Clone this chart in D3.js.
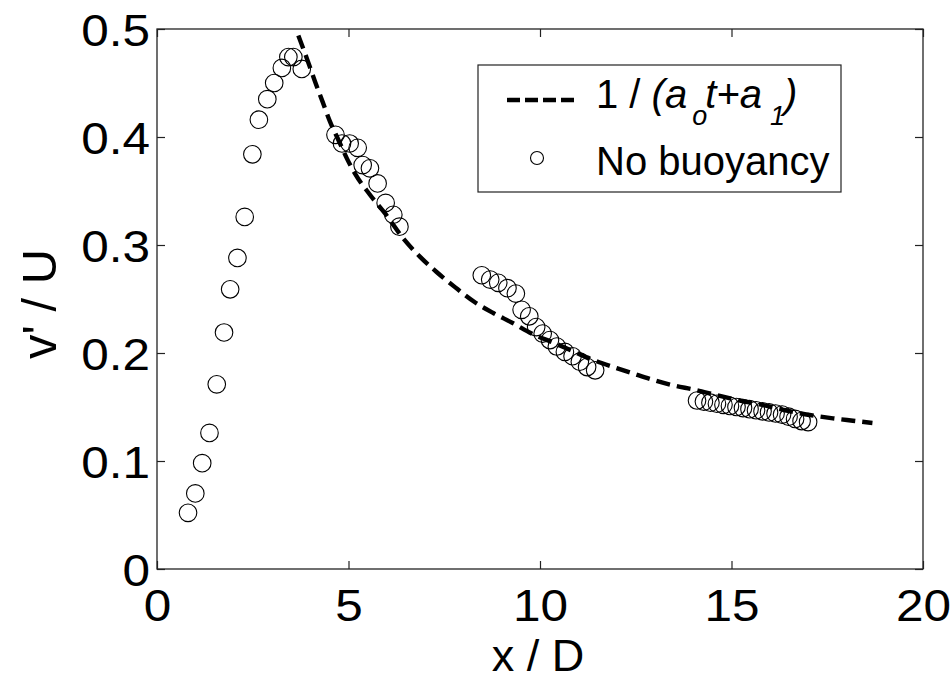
<!DOCTYPE html>
<html>
<head>
<meta charset="utf-8">
<script src="https://cdn.jsdelivr.net/npm/d3@7"></script>
<style>
  html, body { margin: 0; padding: 0; background: #fff; }
  svg { display: block; font-family: "Liberation Sans", Arial, sans-serif; }
</style>
</head>
<body>
<svg id="chart" width="950" height="681"></svg>
<script>
// ---- data ----
const xTicks = [0, 5, 10, 15, 20];
const xTickLabels = ["0", "5", "10", "15", "20"];
const yTicks = [0, 0.1, 0.2, 0.3, 0.4, 0.5];
const yTickLabels = ["0", "0.1", "0.2", "0.3", "0.4", "0.5"];

// "No buoyancy" measurements
const obsX = [0.81, 1.00, 1.18, 1.37, 1.56, 1.75, 1.91, 2.10, 2.29, 2.49, 2.66, 2.88, 3.06, 3.26, 3.43, 3.56, 3.78,
  4.66, 4.83, 5.03, 5.24, 5.37, 5.56, 5.76, 5.97, 6.17, 6.33,
  8.48, 8.70, 8.91, 9.15, 9.37, 9.52, 9.72, 9.90, 10.07, 10.26, 10.44, 10.65, 10.85, 11.04, 11.23, 11.44,
  14.10, 14.28, 14.45, 14.62, 14.79, 14.96, 15.13, 15.30, 15.47, 15.64, 15.81, 15.98, 16.15, 16.32, 16.49, 16.66, 16.83, 17.00];
const obsY = [0.052, 0.070, 0.098, 0.126, 0.171, 0.219, 0.259, 0.288, 0.326, 0.384, 0.416, 0.435, 0.450, 0.464, 0.474, 0.474, 0.463,
  0.402, 0.394, 0.394, 0.390, 0.374, 0.371, 0.357, 0.339, 0.328, 0.317,
  0.272, 0.268, 0.265, 0.260, 0.255, 0.240, 0.234, 0.224, 0.218, 0.212, 0.206, 0.201, 0.197, 0.192, 0.187, 0.184,
  0.156, 0.155, 0.154, 0.153, 0.152, 0.151, 0.150, 0.149, 0.148, 0.147, 0.146, 0.145, 0.144, 0.143, 0.141, 0.139, 0.137, 0.136];

// fitted curve 1/(a0 t + a1)
const fitX = [3.69, 3.91, 4.13, 4.32, 4.52, 4.74, 4.96, 5.17, 5.55, 5.96, 6.43, 6.87, 7.30, 7.78, 8.30, 8.78, 9.30, 9.78, 10.39, 10.96, 11.39, 12.00, 12.43, 12.96, 13.48, 14.04, 14.61, 15.22, 15.80, 16.40, 17.04, 17.65, 18.17, 18.68];
const fitY = [0.494, 0.473, 0.451, 0.433, 0.414, 0.397, 0.380, 0.366, 0.347, 0.329, 0.306, 0.289, 0.275, 0.261, 0.247, 0.237, 0.2275, 0.218, 0.209, 0.200, 0.1935, 0.186, 0.181, 0.175, 0.170, 0.166, 0.161, 0.156, 0.152, 0.147, 0.1426, 0.1395, 0.1373, 0.1352];

// ---- layout ----
const L = 157, R = 923, T = 29, B = 569;
const svg = d3.select("#chart");
const x = d3.scaleLinear().domain([0, 20]).range([L, R]);
const y = d3.scaleLinear().domain([0, 0.5]).range([B, T]);
const stretch = 1.1;
const tickFont = 45;
const axisColor = "#222";

// frame
svg.append("rect").attr("x", L).attr("y", T).attr("width", R - L).attr("height", B - T)
  .attr("fill", "none").attr("stroke", axisColor).attr("stroke-width", 1.3);

function styleAxis(g) {
  g.select(".domain").remove();
  g.selectAll(".tick line").attr("stroke", axisColor).attr("stroke-width", 1.2);
}

// bottom axis
const gx = svg.append("g").attr("transform", `translate(0,${B})`)
  .call(d3.axisBottom(x).tickValues(xTicks).tickSizeInner(-8).tickSizeOuter(0)
    .tickFormat((d, i) => xTickLabels[i]));
styleAxis(gx);
gx.selectAll(".tick text").attr("fill", "#000").attr("font-size", tickFont)
  .attr("y", 52).attr("dy", 0).attr("transform", `scale(${stretch},1)`);

// top axis (ticks only)
const gxt = svg.append("g").attr("transform", `translate(0,${T})`)
  .call(d3.axisTop(x).tickValues(xTicks).tickSizeInner(-8).tickSizeOuter(0).tickFormat(""));
styleAxis(gxt);

// left axis
const gy = svg.append("g").attr("transform", `translate(${L},0)`)
  .call(d3.axisLeft(y).tickValues(yTicks).tickSizeInner(-8).tickSizeOuter(0)
    .tickFormat((d, i) => yTickLabels[i]));
styleAxis(gy);
gy.selectAll(".tick text").attr("fill", "#000").attr("font-size", tickFont)
  .attr("x", -7 / stretch).attr("dy", "0.36em").attr("transform", `scale(${stretch},1)`);

// right axis (ticks only)
const gyr = svg.append("g").attr("transform", `translate(${R},0)`)
  .call(d3.axisRight(y).tickValues(yTicks).tickSizeInner(-8).tickSizeOuter(0).tickFormat(""));
styleAxis(gyr);

// axis titles
svg.append("text").attr("x", 538).attr("y", 671)
  .attr("text-anchor", "middle").attr("font-size", 45).attr("fill", "#000")
  .text("x / D");
svg.append("text").attr("transform", "translate(56,304) rotate(-90)")
  .attr("text-anchor", "middle").attr("font-size", 49).attr("fill", "#000")
  .text("v' / U");

// fitted dashed curve
const fitData = fitX.map((d, i) => [d, fitY[i]]);
svg.append("path").datum(fitData)
  .attr("d", d3.line().x(d => x(d[0])).y(d => y(d[1])).curve(d3.curveMonotoneX))
  .attr("fill", "none").attr("stroke", "#000").attr("stroke-width", 4.4)
  .attr("stroke-dasharray", "14,7");

// observation markers
const obsData = obsX.map((d, i) => [d, obsY[i]]);
svg.append("g").selectAll("circle").data(obsData).join("circle")
  .attr("cx", d => x(d[0])).attr("cy", d => y(d[1])).attr("r", 8.8)
  .attr("fill", "none").attr("stroke", "#000").attr("stroke-width", 1.1);

// legend
const lg = svg.append("g");
lg.append("rect").attr("x", 478).attr("y", 65).attr("width", 363).attr("height", 127)
  .attr("fill", "#fff").attr("stroke", axisColor).attr("stroke-width", 1.2);
lg.append("line").attr("x1", 507).attr("x2", 574).attr("y1", 100).attr("y2", 100)
  .attr("stroke", "#000").attr("stroke-width", 4.4).attr("stroke-dasharray", "13,5");
lg.append("circle").attr("cx", 537).attr("cy", 158).attr("r", 6.5)
  .attr("fill", "none").attr("stroke", "#000").attr("stroke-width", 1.1);

const t1 = lg.append("text").attr("x", 596).attr("y", 108).attr("font-size", 40).attr("fill", "#000");
t1.append("tspan").text("1 / ");
t1.append("tspan").attr("font-style", "italic").text("(a");
t1.append("tspan").attr("font-style", "italic").attr("font-size", 27).attr("dx", 5).attr("dy", 17).text("o");
t1.append("tspan").attr("font-style", "italic").attr("dx", -2).attr("dy", -17).text("t+a");
t1.append("tspan").attr("font-style", "italic").attr("font-size", 27).attr("dx", 8).attr("dy", 17).text("1");
t1.append("tspan").attr("font-style", "italic").attr("dx", -1).attr("dy", -17).text(")");

lg.append("text").attr("x", 596).attr("y", 175).attr("font-size", 40).attr("fill", "#000")
  .text("No buoyancy");
</script>
</body>
</html>
